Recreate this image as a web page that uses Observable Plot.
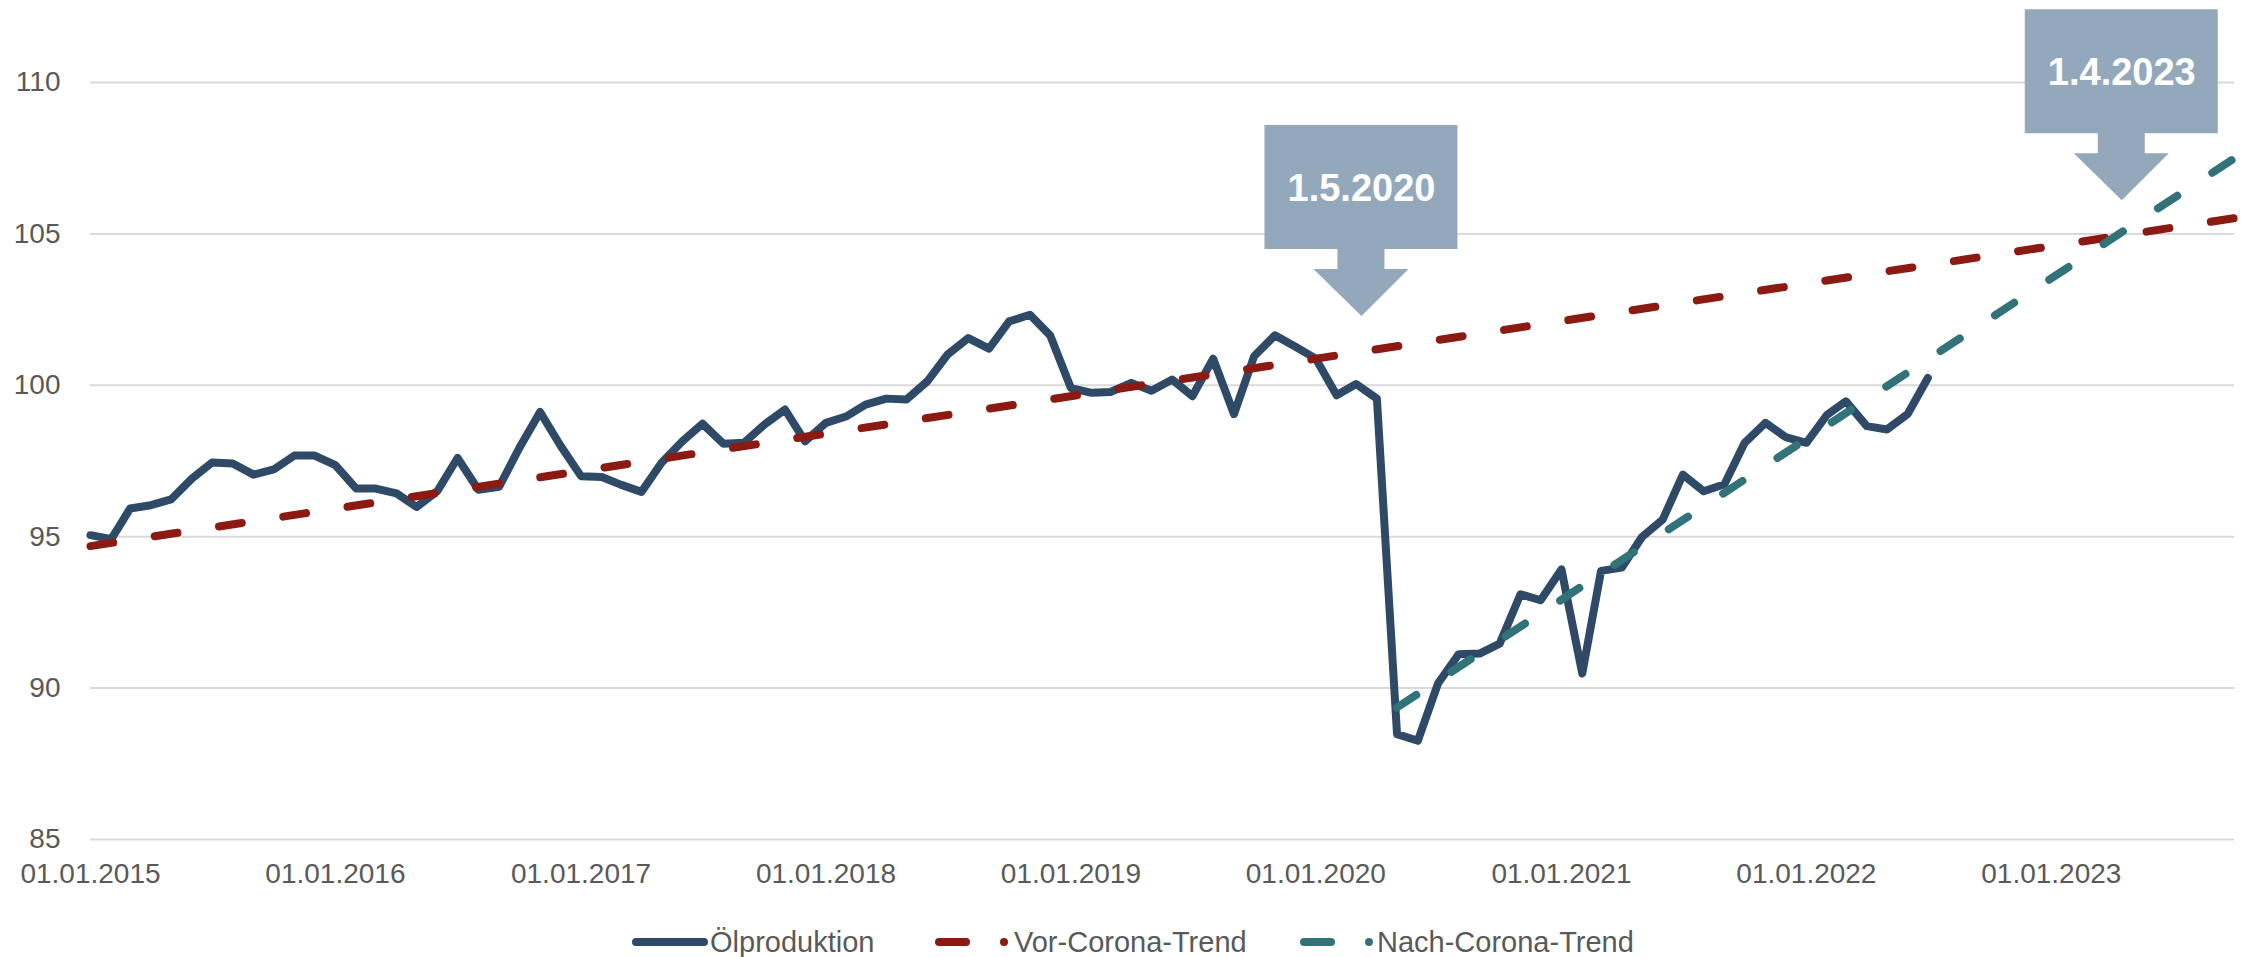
<!DOCTYPE html>
<html>
<head>
<meta charset="utf-8">
<script src="https://cdn.jsdelivr.net/npm/d3@7"></script>
<script src="https://cdn.jsdelivr.net/npm/@observablehq/plot@0.6"></script>
<style>
  html, body { margin: 0; padding: 0; background: #ffffff; overflow: hidden; }
  #chart { width: 2247px; }
  #legend { display: block; }
</style>
</head>
<body>
<div id="chart"></div>
<script>
// ---------- data ----------
const startMonth = "2015-01-01";
// Ölproduktion, monthly values Jan 2015 – Jul 2022
const oil = [
  95.05, 94.92, 95.93, 96.04, 96.23, 96.92, 97.45, 97.42, 97.05, 97.22, 97.68, 97.68,
  97.36, 96.59, 96.59, 96.43, 95.98, 96.51, 97.60, 96.55, 96.65, 97.93, 99.12, 98.02,
  97.00, 96.97, 96.72, 96.48, 97.44, 98.15, 98.73, 98.07, 98.10, 98.70, 99.20, 98.15,
  98.76, 98.98, 99.36, 99.56, 99.53, 100.13, 101.01, 101.56, 101.21, 102.11, 102.33, 101.65,
  99.91, 99.75, 99.78, 100.08, 99.82, 100.19, 99.64, 100.88, 99.05, 100.96, 101.65, 101.28,
  100.88, 99.67, 100.04, 99.56, 88.48, 88.26, 90.15, 91.12, 91.14, 91.47, 93.10, 92.90,
  93.92, 90.48, 93.87, 93.98, 94.99, 95.57, 97.05, 96.50, 96.73, 98.10, 98.76, 98.29,
  98.10, 99.03, 99.47, 98.65, 98.54, 99.05, 100.24
];
const preTrendDates = ["2015-01-01", "2023-10-01"];
const preTrendValues = [94.69, 105.52];
const postTrendDates = ["2020-05-01", "2023-10-01"];
const postTrendValues = [89.36, 107.50];
const yTicks = [85, 90, 95, 100, 105, 110];
const xTickDates = ["2015-01-01","2016-01-01","2017-01-01","2018-01-01","2019-01-01","2020-01-01","2021-01-01","2022-01-01","2023-01-01"];
const xDomain = ["2015-01-01", "2023-10-01"];
const annotationDates = ["2020-03-09", "2023-04-16"];
const annotationValues = [102.29, 106.11];
const annotationLabels = ["1.5.2020", "1.4.2023"];
const seriesNames = ["Ölproduktion", "Vor-Corona-Trend", "Nach-Corona-Trend"];

// ---------- tables ----------
const oilData = oil.map((v, i) => ({date: d3.utcMonth.offset(new Date(startMonth), i), value: v}));
const preTrend = preTrendDates.map((d, i) => ({date: new Date(d), value: preTrendValues[i]}));
const postTrend = postTrendDates.map((d, i) => ({date: new Date(d), value: postTrendValues[i]}));
const annotations = annotationDates.map((d, i) => ({date: new Date(d), value: annotationValues[i], label: annotationLabels[i]}));

const COLORS = {oil: "#2E4A66", pre: "#8B1A12", post: "#32737A", callout: "#94A8BC", grid: "#D9D9D9", text: "#595959"};
const LW = 8;

// block-arrow callout symbol, tip at the anchor point
const calloutSymbol = {
  draw(ctx) {
    ctx.moveTo(-97, -191);
    ctx.lineTo(96, -191);
    ctx.lineTo(96, -67);
    ctx.lineTo(23, -67);
    ctx.lineTo(23, -47);
    ctx.lineTo(47, -47);
    ctx.lineTo(0, 0);
    ctx.lineTo(-48, -47);
    ctx.lineTo(-24, -47);
    ctx.lineTo(-24, -67);
    ctx.lineTo(-97, -67);
    ctx.closePath();
  }
};

const chart = Plot.plot({
  width: 2247,
  height: 900,
  marginLeft: 90,
  marginRight: 13,
  marginTop: 82,
  marginBottom: 61,
  style: {fontFamily: "'Liberation Sans', Arial, sans-serif", fontSize: "28px", color: COLORS.text, background: "#ffffff"},
  x: {type: "utc", domain: xDomain.map(d => new Date(d))},
  y: {domain: [85, 110]},
  marks: [
    Plot.gridY(yTicks, {stroke: COLORS.grid, strokeOpacity: 1, strokeWidth: 2}),
    Plot.axisY(yTicks, {tickSize: 0, tickPadding: 30, fontSize: 28, label: null}),
    Plot.axisX(xTickDates.map(d => new Date(d)), {tickSize: 0, tickPadding: 24, fontSize: 28, label: null, tickFormat: d3.utcFormat("%d.%m.%Y")}),
    Plot.lineY(oilData, {x: "date", y: "value", stroke: COLORS.oil, strokeWidth: LW, strokeLinejoin: "round", strokeLinecap: "round"}),
    Plot.line(preTrend, {x: "date", y: "value", stroke: COLORS.pre, strokeWidth: LW, strokeDasharray: "23,42", strokeLinecap: "round"}),
    Plot.line(postTrend, {x: "date", y: "value", stroke: COLORS.post, strokeWidth: LW, strokeDasharray: "23,42", strokeLinecap: "round"}),
    Plot.dot(annotations, {x: "date", y: "value", symbol: calloutSymbol, r: 10, fill: COLORS.callout, stroke: "none"}),
    Plot.text(annotations, {x: "date", y: "value", text: "label", dy: -127, fill: "#ffffff", fontSize: 38, fontWeight: "bold", textAnchor: "middle"})
  ]
});
document.getElementById("chart").appendChild(chart);

// ---------- legend ----------
const NS = "http://www.w3.org/2000/svg";
const legend = document.createElementNS(NS, "svg");
legend.setAttribute("id", "legend");
legend.setAttribute("width", 2247);
legend.setAttribute("height", 57);
legend.setAttribute("font-family", "'Liberation Sans', Arial, sans-serif");
legend.setAttribute("font-size", "29");
const items = [
  {name: seriesNames[0], color: COLORS.oil, x1: 636, x2: 704, dot: null, tx: 710},
  {name: seriesNames[1], color: COLORS.pre, x1: 939, x2: 966, dot: 1004, tx: 1014},
  {name: seriesNames[2], color: COLORS.post, x1: 1304, x2: 1331, dot: 1369, tx: 1377}
];
for (const it of items) {
  const l = document.createElementNS(NS, "line");
  l.setAttribute("x1", it.x1); l.setAttribute("x2", it.x2);
  l.setAttribute("y1", 42); l.setAttribute("y2", 42);
  l.setAttribute("stroke", it.color); l.setAttribute("stroke-width", LW);
  l.setAttribute("stroke-linecap", "round");
  legend.appendChild(l);
  if (it.dot) {
    const c = document.createElementNS(NS, "circle");
    c.setAttribute("cx", it.dot); c.setAttribute("cy", 42); c.setAttribute("r", 4);
    c.setAttribute("fill", it.color);
    legend.appendChild(c);
  }
  const t = document.createElementNS(NS, "text");
  t.setAttribute("x", it.tx); t.setAttribute("y", 52);
  t.setAttribute("fill", COLORS.text);
  t.textContent = it.name;
  legend.appendChild(t);
}
document.getElementById("chart").appendChild(legend);
</script>
</body>
</html>
